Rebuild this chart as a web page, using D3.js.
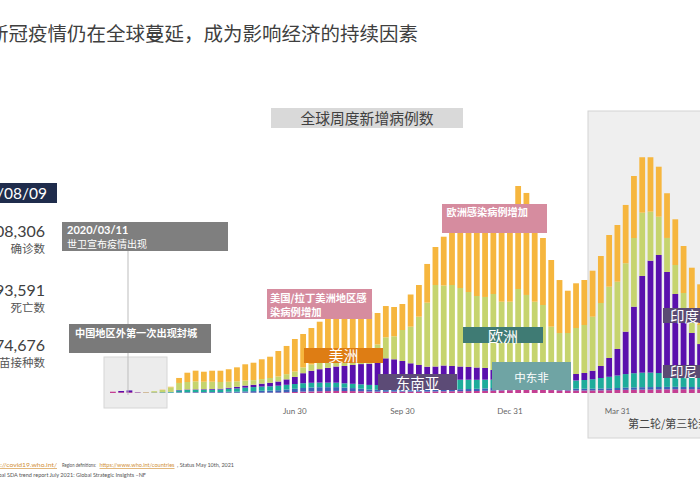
<!DOCTYPE html>
<html>
<head>
<meta charset="utf-8">
<script src="https://cdn.jsdelivr.net/npm/d3@7"></script>
<style>
  body { margin: 0; background: #fff; }
  svg { display: block; font-family: Lato, "Noto Sans CJK SC", sans-serif; }
</style>
</head>
<body>
<div class="chart"></div>
<script>
// weekly new cases (thousands), one entry per week, late Jan 2020 -> May 2021
const weeks = d3.range(72);

const westernPacific = [31,19,19,12,10,7,7, 5,7,7,10,10,10,7,10,7,10, 10,10,10,12,17,24,34,38,43,46,
  50,48,46,43,36,34,31,34,34,34, 34,34,38,41,43,43,46,48,53,58, 62,67,77,82,82,77,70,62,60,60,
  60,62,65,67,72,77,79,82,84,86, 89,91,91,91,91];
const africa = [0,0,0,5,0,0,0, 5,10,12,12,14,14,17,22,24,29, 36,43,48,55,67,77,86,94,96,94,
  91,82,72,60,48,43,38,36,34,34, 36,41,46,48,48,48,50,53,58,62, 70,79,91,94,86,77,67,55,48,43,
  41,41,43,46,48,53,55,58,58,58, 58,58,55,53,50];
const eastMed = [0,0,0,0,0,7,12, 14,46,53,53,53,55,60,70,79,89, 96,101,103,108,113,115,115,113,110,108,
  106,103,103,106,110,115,120,125,134,151, 168,192,216,228,228,228,223,216,209,199, 187,173,168,163,158,156,158,168,180,197,
  211,228,252,276,300,324,341,348,348,336, 322,300,276,252,240];
const southEastAsia = [0,29,43,0,0,0,0, 2,10,12,12,14,17,19,24,38,50, 55,70,84,101,130,170,240,288,322,355,
  389,415,451,485,509,576,643,614,566,494, 434,365,336,343,329,317,305,295,281,233, 209,185,168,142,130,134,137,146,144,156,
  168,204,288,451,636,1018,1596,2321,2686,2832, 2436,1927,1498,1044,794];
const europe = [0,0,0,0,12,29,53, 110,168,180,192,180,175,161,144,132,120, 110,110,115,120,125,130,139,151,161,175,
  190,211,240,271,300,396,504,552,744,878, 1159,1536,1956,1920,1944,1884,1800,1716,1704,1824, 1663,1687,1992,1872,1735,1668,1159,1008,1008,1104,
  1152,1296,1512,1711,1615,1642,1649,1519,1176,919, 816,696,480,480,456];
const americas = [0,0,0,0,0,0,7, 14,120,223,257,240,264,271,300,336,391, 420,475,511,612,677,780,802,876,979,1070,
  1166,1133,1080,1027,948,756,751,703,624,773, 761,929,912,1171,1368,1488,1584,1728,1896,1920, 1913,2009,2472,2448,1913,1608,1601,1272,1015,1073,
  1080,1104,1128,1241,1361,1399,1488,1330,1306,1200, 1073,1097,1128,1087,977];

const tickWeeks = [22, 35, 48, 61];
const tickLabels = ["Jun 30", "Sep 30", "Dec 31", "Mar 31"];

const series = [
  { key: "westernPacific", values: westernPacific, color: "#c43f93" },
  { key: "africa", values: africa, color: "#3a63b8" },
  { key: "eastMed", values: eastMed, color: "#1eac9b" },
  { key: "southEastAsia", values: southEastAsia, color: "#5a10ad" },
  { key: "europe", values: europe, color: "#c6d46e" },
  { key: "americas", values: americas, color: "#f6b63e" }
];

const table = weeks.map((w, i) => {
  const row = { week: w };
  series.forEach(s => row[s.key] = s.values[i]);
  return row;
});

const width = 700, height = 500;
const baseline = 393;

const svg = d3.select(".chart").append("svg")
  .attr("width", width)
  .attr("height", height);

const x = d3.scaleBand()
  .domain(weeks)
  .range([110, 703])
  .paddingInner(0.3)
  .paddingOuter(0);

const y = d3.scaleLinear()
  .domain([0, 6000])
  .range([baseline, 143]);

// page title
svg.append("text")
  .attr("x", -11).attr("y", 41)
  .attr("font-family", "Noto Sans CJK SC")
  .attr("font-size", 19.5)
  .attr("fill", "#3f3f3f")
  .text("新冠疫情仍在全球蔓延，成为影响经济的持续因素");

// chart title
svg.append("rect").attr("x", 271).attr("y", 108).attr("width", 192).attr("height", 20).attr("fill", "#d9d9d9");
svg.append("text")
  .attr("x", 367).attr("y", 123.5)
  .attr("text-anchor", "middle")
  .attr("font-family", "Noto Sans CJK SC")
  .attr("font-size", 14.8)
  .attr("fill", "#404040")
  .text("全球周度新增病例数");

// left stats panel
svg.append("rect").attr("x", 0).attr("y", 183).attr("width", 57).attr("height", 20).attr("fill", "#1f2c4c");
svg.append("text").attr("x", 47).attr("y", 199).attr("text-anchor", "end")
  .attr("font-size", 15.5).attr("fill", "#fff").text("2021/08/09");

const stats = [
  { num: "08,306", label: "确诊数", y: 237 },
  { num: "93,591", label: "死亡数", y: 296 },
  { num: "74,676", label: "疫苗接种数", y: 351 }
];
stats.forEach(s => {
  svg.append("text").attr("x", 45).attr("y", s.y).attr("text-anchor", "end")
    .attr("font-size", 16).attr("fill", "#404040").text(s.num);
  svg.append("text").attr("x", 45).attr("y", s.y + 15.5).attr("text-anchor", "end")
    .attr("font-family", "Noto Sans CJK SC")
    .attr("font-size", 11.5).attr("fill", "#555").text(s.label);
});

// shaded periods
svg.append("rect").attr("x", 104).attr("y", 357).attr("width", 63).attr("height", 51)
  .attr("fill", "#ececec").attr("stroke", "#d6d6d6");
svg.append("rect").attr("x", 588).attr("y", 111).attr("width", 130).attr("height", 327)
  .attr("fill", "#efefef").attr("stroke", "#d4d4d4");
svg.append("text").attr("x", 628).attr("y", 428)
  .attr("font-family", "Noto Sans CJK SC")
  .attr("font-size", 11).attr("fill", "#444").text("第二轮/第三轮封城");

// stacked bars
const stacked = d3.stack().keys(series.map(s => s.key))(table);

svg.append("g")
  .selectAll("g")
  .data(stacked)
  .enter()
  .append("g")
  .attr("fill", (d, i) => series[i].color)
  .selectAll("rect")
  .data(d => d)
  .enter()
  .append("rect")
  .attr("x", d => x(d.data.week))
  .attr("y", d => y(d[1]))
  .attr("width", x.bandwidth())
  .attr("height", d => y(d[0]) - y(d[1]));

// x axis
svg.append("g")
  .attr("transform", `translate(0,${baseline})`)
  .call(d3.axisBottom(x).tickValues(tickWeeks).tickFormat((d, i) => tickLabels[i]).tickSize(0).tickPadding(15))
  .call(g => g.select(".domain").remove())
  .selectAll("text")
  .attr("font-family", "Lato")
  .attr("font-size", 8)
  .attr("fill", "#666");

// WHO announcement line
svg.append("line").attr("x1", 128).attr("x2", 128).attr("y1", 251).attr("y2", 395)
  .attr("stroke", "#bdbdbd").attr("stroke-width", 1);

// annotation boxes
svg.append("rect").attr("x", 62).attr("y", 222).attr("width", 166).attr("height", 29).attr("fill", "#7f7f7f");
svg.append("text").attr("x", 67).attr("y", 234).attr("font-size", 11).attr("font-weight", 700)
  .attr("fill", "#fff").text("2020/03/11");
svg.append("text").attr("x", 67).attr("y", 248).attr("font-family", "Noto Sans CJK SC")
  .attr("font-size", 10).attr("fill", "#fff").text("世卫宣布疫情出现");

svg.append("rect").attr("x", 69).attr("y", 324).attr("width", 142).attr("height", 29).attr("fill", "#7a7a7a");
svg.append("text").attr("x", 75).attr("y", 336.5).attr("font-family", "Noto Sans CJK SC")
  .attr("font-size", 10.2).attr("font-weight", 700).attr("fill", "#fff").text("中国地区外第一次出现封城");

svg.append("rect").attr("x", 267).attr("y", 289).attr("width", 105).attr("height", 30).attr("fill", "#d68c9f");
svg.append("text").attr("x", 270).attr("y", 301.5).attr("font-family", "Noto Sans CJK SC")
  .attr("font-size", 10.3).attr("font-weight", 700).attr("fill", "#fff").text("美国/拉丁美洲地区感");
svg.append("text").attr("x", 270).attr("y", 316).attr("font-family", "Noto Sans CJK SC")
  .attr("font-size", 10.3).attr("font-weight", 700).attr("fill", "#fff").text("染病例增加");

svg.append("rect").attr("x", 442).attr("y", 204).attr("width", 105).attr("height", 29).attr("fill", "#d68c9f");
svg.append("text").attr("x", 446.5).attr("y", 216).attr("font-family", "Noto Sans CJK SC")
  .attr("font-size", 10.2).attr("font-weight", 700).attr("fill", "#fff").text("欧洲感染病例增加");

const regionTags = [
  { text: "美洲", x: 304, y: 348, w: 79, h: 15, color: "#de7d14", size: 15, ty: 360.5 },
  { text: "东南亚", x: 378, y: 374, w: 79, h: 16, color: "#5c4b76", size: 14.5, ty: 388.5 },
  { text: "欧洲", x: 463, y: 327, w: 80, h: 16, color: "#3f7b74", size: 15, ty: 342 },
  { text: "中东非", x: 492, y: 362, w: 79, h: 28, color: "#6fa4a4", size: 11.5, ty: 381.5 }
];
regionTags.forEach(t => {
  svg.append("rect").attr("x", t.x).attr("y", t.y).attr("width", t.w).attr("height", t.h).attr("fill", t.color);
  svg.append("text").attr("x", t.x + t.w / 2).attr("y", t.ty).attr("text-anchor", "middle")
    .attr("font-family", "Noto Sans CJK SC").attr("font-size", t.size).attr("fill", "#fff").text(t.text);
});

svg.append("rect").attr("x", 663).attr("y", 308).attr("width", 50).attr("height", 15).attr("fill", "#5b4b73");
svg.append("text").attr("x", 670).attr("y", 321.5).attr("font-family", "Noto Sans CJK SC")
  .attr("font-size", 14.5).attr("fill", "#fff").text("印度");
svg.append("rect").attr("x", 663).attr("y", 365).attr("width", 50).attr("height", 13).attr("fill", "#5b4b73");
svg.append("text").attr("x", 670).attr("y", 377).attr("font-family", "Noto Sans CJK SC")
  .attr("font-size", 13.5).attr("fill", "#fff").text("印尼");

// footer (condensed small print)
const footParts = [
  { text: "https://covid19.who.int/", x: -15, len: 72, link: true },
  { text: "Region definitions:", x: 62, len: 34, link: false },
  { text: "https://www.who.int/countries", x: 99.5, len: 75, link: true },
  { text: ", Status May 10th, 2021", x: 177, len: 57, link: false }
];
footParts.forEach(p => {
  svg.append("text").attr("x", p.x).attr("y", 467)
    .attr("font-size", 6.5)
    .attr("textLength", p.len).attr("lengthAdjust", "spacingAndGlyphs")
    .attr("fill", p.link ? "#d29138" : "#555")
    .attr("text-decoration", p.link ? "underline" : null)
    .text(p.text);
});
svg.append("text").attr("x", -10).attr("y", 476.5)
  .attr("font-size", 6.5)
  .attr("textLength", 156).attr("lengthAdjust", "spacingAndGlyphs")
  .attr("fill", "#555")
  .text("Global SDA trend report July 2021: Global Strategic Insights –NF");
</script>
</body>
</html>
